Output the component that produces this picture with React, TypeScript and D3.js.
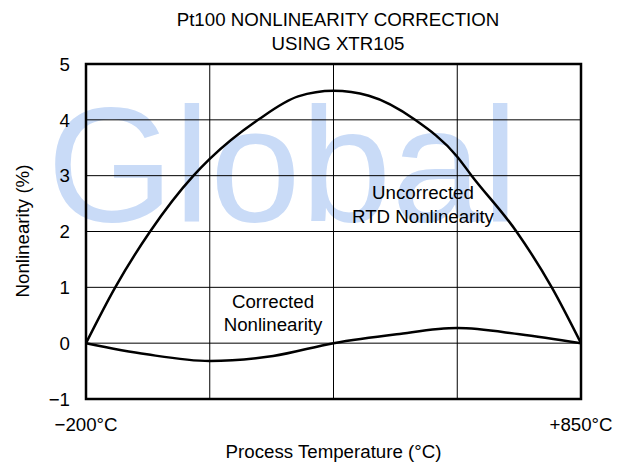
import React from "react";
import * as d3 from "d3";

// temperature (°C) vs nonlinearity (%)
const uncorrectedTemps = [-200, -138, -64, 28, 62.5, 165, 250, 325, 400, 498, 587.5, 618, 713, 788, 850];
const uncorrectedValues = [0, 1, 2, 3, 3.3, 4, 4.42, 4.52, 4.43, 4, 3.34, 3, 2, 1, 0];

const correctedTemps = [-200, -71, 62.5, 197, 325, 459, 587.5, 720, 850];
const correctedValues = [0, -0.2, -0.32, -0.23, 0, 0.16, 0.27, 0.16, 0];

const yTicks = [-1, 0, 1, 2, 3, 4, 5];
const xGrid = [62.5, 325, 587.5];
const xTickLabels = ["\u2212200\u00b0C", "+850\u00b0C"];
const titleLines = ["Pt100 NONLINEARITY CORRECTION", "USING XTR105"];

const width = 629;
const height = 462;
const margin = { top: 64, right: 48, bottom: 63, left: 86 };
const font = "'Liberation Sans', Arial, sans-serif";
const fs = 18.7;

export default function App() {
  const innerRight = width - margin.right;
  const innerBottom = height - margin.bottom;

  const x = d3.scaleLinear().domain([-200, 850]).range([margin.left, innerRight]);
  const y = d3.scaleLinear().domain([-1, 5]).range([innerBottom, margin.top]);

  const line = d3
    .line<[number, number]>()
    .x(d => x(d[0]))
    .y(d => y(d[1]))
    .curve(d3.curveMonotoneX);

  const uncorrected = uncorrectedTemps.map((t, i) => [t, uncorrectedValues[i]] as [number, number]);
  const corrected = correctedTemps.map((t, i) => [t, correctedValues[i]] as [number, number]);

  const cx = (margin.left + innerRight) / 2;

  return (
    <svg
      width={width}
      height={height}
      style={{ position: "absolute", left: 0, top: 0, background: "#fff" }}
      fontFamily={font}
    >
      {/* watermark */}
      <text x={47} y={221} fontSize={163} fill="#c9dbf7">
        Global
      </text>

      {/* title */}
      {titleLines.map((t, i) => (
        <text key={t} x={338} y={26 + i * 24} fontSize={fs} textAnchor="middle" fill="#000">
          {t}
        </text>
      ))}

      {/* grid */}
      {yTicks.slice(1, -1).map(v => (
        <line key={"h" + v} x1={margin.left} x2={innerRight} y1={y(v)} y2={y(v)} stroke="#000" strokeWidth={1} />
      ))}
      {xGrid.map(v => (
        <line key={"v" + v} x1={x(v)} x2={x(v)} y1={margin.top} y2={innerBottom} stroke="#000" strokeWidth={1} />
      ))}

      {/* curves */}
      <path d={line(uncorrected) || ""} fill="none" stroke="#000" strokeWidth={2.5} />
      <path d={line(corrected) || ""} fill="none" stroke="#000" strokeWidth={2.5} />

      {/* frame */}
      <rect
        x={margin.left}
        y={margin.top}
        width={innerRight - margin.left}
        height={innerBottom - margin.top}
        fill="none"
        stroke="#000"
        strokeWidth={2.5}
      />

      {/* y ticks */}
      {yTicks.map(v => (
        <text key={"yt" + v} x={70} y={y(v)} dy="0.36em" fontSize={fs} textAnchor="end">
          {v < 0 ? "\u2212" + Math.abs(v) : v}
        </text>
      ))}

      {/* x tick labels */}
      <text x={x(-200)} y={431} fontSize={fs} textAnchor="middle">
        {xTickLabels[0]}
      </text>
      <text x={x(850)} y={431} fontSize={fs} textAnchor="middle">
        {xTickLabels[1]}
      </text>

      {/* axis titles */}
      <text x={cx} y={458} fontSize={fs} textAnchor="middle">
        Process Temperature (°C)
      </text>
      <text transform="translate(29,231) rotate(-90)" fontSize={fs} textAnchor="middle">
        Nonlinearity (%)
      </text>

      {/* annotations */}
      <text x={423} y={199} fontSize={fs} textAnchor="middle">
        Uncorrected
      </text>
      <text x={423} y={223} fontSize={fs} textAnchor="middle">
        RTD Nonlinearity
      </text>
      <text x={273} y={308} fontSize={fs} textAnchor="middle">
        Corrected
      </text>
      <text x={273} y={331} fontSize={fs} textAnchor="middle">
        Nonlinearity
      </text>
    </svg>
  );
}
